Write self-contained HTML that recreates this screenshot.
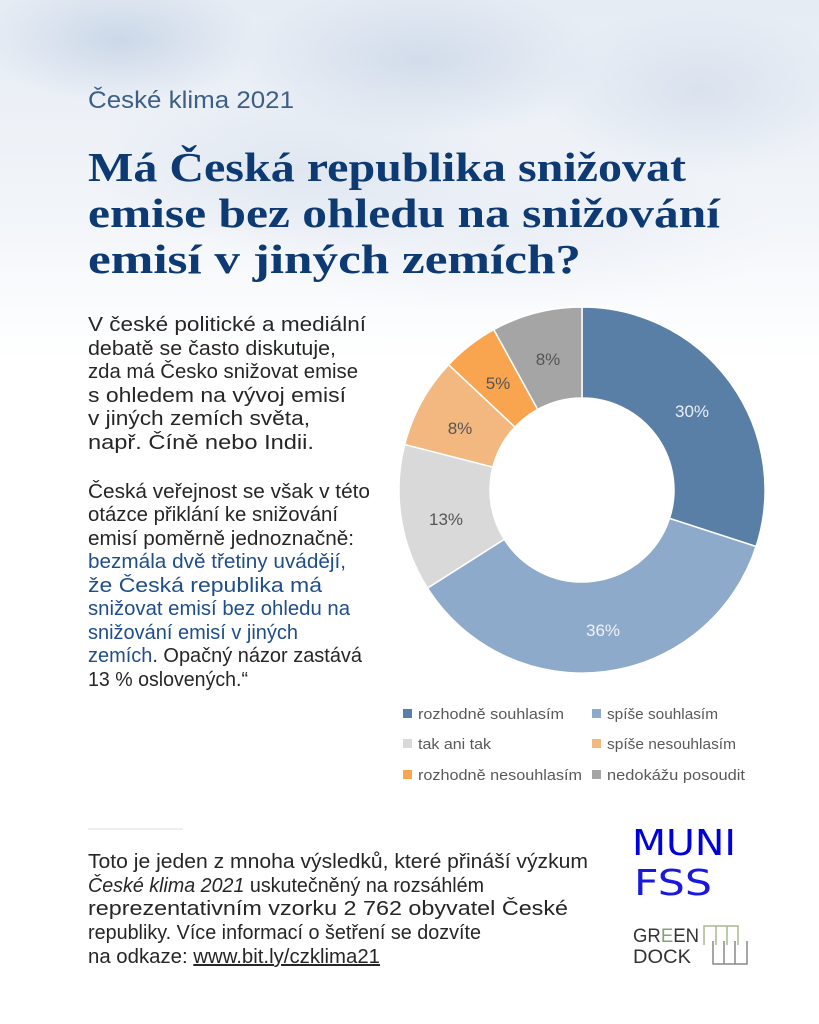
<!DOCTYPE html>
<html><head><meta charset="utf-8"><style>
html,body{margin:0;padding:0;}
body{width:819px;height:1024px;overflow:hidden;background:#fff;position:relative;font-family:"Liberation Sans",sans-serif;}
.bg{position:absolute;left:0;top:0;width:819px;height:360px;
background:
radial-gradient(ellipse 200px 90px at 120px 40px,rgba(180,198,222,.55),transparent 70%),
radial-gradient(ellipse 260px 110px at 420px 60px,rgba(190,205,226,.55),transparent 70%),
radial-gradient(ellipse 220px 120px at 700px 90px,rgba(200,212,230,.5),transparent 70%),
radial-gradient(ellipse 300px 120px at 300px 170px,rgba(205,216,232,.45),transparent 70%),
radial-gradient(ellipse 400px 120px at 500px 230px,rgba(220,228,240,.4),transparent 70%),
linear-gradient(#e6ecf4,#f2f5f9 60%,#fff);}
svg{position:absolute;left:0;top:0;}
</style></head><body>
<div class="bg"></div>
<svg width="819" height="1024" viewBox="0 0 819 1024">
<text x="88" y="108" font-family="Liberation Sans,sans-serif" font-size="24" fill="#3e5f85" textLength="206" lengthAdjust="spacingAndGlyphs">České klima 2021</text>
<g font-family="Liberation Serif,serif" font-weight="bold" font-size="41" fill="#0d3a73">
<text x="88" y="181" textLength="598" lengthAdjust="spacingAndGlyphs">Má Česká republika snižovat</text>
<text x="88" y="227" textLength="632" lengthAdjust="spacingAndGlyphs">emise bez ohledu na snižování</text>
<text x="88" y="273" textLength="493" lengthAdjust="spacingAndGlyphs">emisí v jiných zemích?</text>
</g>
<g font-family="Liberation Sans,sans-serif" font-size="20" fill="#262626" lengthAdjust="spacingAndGlyphs">
<text x="88" y="331" textLength="278" lengthAdjust="spacingAndGlyphs">V české politické a mediální</text>
<text x="88" y="355" textLength="248" lengthAdjust="spacingAndGlyphs">debatě se často diskutuje,</text>
<text x="88" y="378" textLength="270" lengthAdjust="spacingAndGlyphs">zda má Česko snižovat emise</text>
<text x="88" y="402" textLength="258" lengthAdjust="spacingAndGlyphs">s ohledem na vývoj emisí</text>
<text x="88" y="425" textLength="222" lengthAdjust="spacingAndGlyphs">v jiných zemích světa,</text>
<text x="88" y="449" textLength="226" lengthAdjust="spacingAndGlyphs">např. Číně nebo Indii.</text>
<text x="88" y="498" textLength="282" lengthAdjust="spacingAndGlyphs">Česká veřejnost se však v této</text>
<text x="88" y="521" textLength="250" lengthAdjust="spacingAndGlyphs">otázce přiklání ke snižování</text>
<text x="88" y="545" textLength="266" lengthAdjust="spacingAndGlyphs">emisí poměrně jednoznačně:</text>
<text x="88" y="568" textLength="258" lengthAdjust="spacingAndGlyphs" fill="#1f4e8c">bezmála dvě třetiny uvádějí,</text>
<text x="88" y="592" textLength="234" lengthAdjust="spacingAndGlyphs" fill="#1f4e8c">že Česká republika má</text>
<text x="88" y="615" textLength="262" lengthAdjust="spacingAndGlyphs" fill="#1f4e8c">snižovat emisí bez ohledu na</text>
<text x="88" y="639" textLength="210" lengthAdjust="spacingAndGlyphs" fill="#1f4e8c">snižování emisí v jiných</text>
<text x="88" y="662" textLength="274" lengthAdjust="spacingAndGlyphs"><tspan fill="#1f4e8c">zemích</tspan>. Opačný názor zastává</text>
<text x="88" y="686" textLength="160" lengthAdjust="spacingAndGlyphs">13 % oslovených.“</text>
</g>
<g stroke="#fff" stroke-width="1.5">
<path d="M582,307 A183,183 0 0 1 756.1,546.5 L669.5,518.4 A92,92 0 0 0 582,398 Z" fill="#5a7fa6"/>
<path d="M756.1,546.5 A183,183 0 0 1 427.5,588.1 L504.3,539.3 A92,92 0 0 0 669.5,518.4 Z" fill="#8eaacb"/>
<path d="M427.5,588.1 A183,183 0 0 1 404.7,444.5 L492.9,467.1 A92,92 0 0 0 504.3,539.3 Z" fill="#d9d9d9"/>
<path d="M404.7,444.5 A183,183 0 0 1 448.6,364.7 L514.9,427 A92,92 0 0 0 492.9,467.1 Z" fill="#f2b880"/>
<path d="M448.6,364.7 A183,183 0 0 1 493.8,329.6 L537.7,409.4 A92,92 0 0 0 514.9,427 Z" fill="#f9a44e"/>
<path d="M493.8,329.6 A183,183 0 0 1 582,307 L582,398 A92,92 0 0 0 537.7,409.4 Z" fill="#a5a5a5"/>
</g>
<g font-family="Liberation Sans,sans-serif" font-size="17" text-anchor="middle">
<text x="692" y="417" fill="#e8eef5">30%</text>
<text x="603" y="636" fill="#eef2f8">36%</text>
<text x="446" y="525" fill="#555">13%</text>
<text x="460" y="434" fill="#555">8%</text>
<text x="498" y="389" fill="#555">5%</text>
<text x="548" y="365" fill="#555">8%</text>
</g>
<g font-family="Liberation Sans,sans-serif" font-size="15" fill="#595959">
<rect x="403" y="709" width="9" height="9" fill="#5a7fa6"/><text x="418" y="719" textLength="146" lengthAdjust="spacingAndGlyphs">rozhodně souhlasím</text>
<rect x="592" y="709" width="9" height="9" fill="#8eaacb"/><text x="607" y="719" textLength="111" lengthAdjust="spacingAndGlyphs">spíše souhlasím</text>
<rect x="403" y="739" width="9" height="9" fill="#d9d9d9"/><text x="418" y="749" textLength="73" lengthAdjust="spacingAndGlyphs">tak ani tak</text>
<rect x="592" y="739" width="9" height="9" fill="#f2b880"/><text x="607" y="749" textLength="129" lengthAdjust="spacingAndGlyphs">spíše nesouhlasím</text>
<rect x="403" y="770" width="9" height="9" fill="#f9a44e"/><text x="418" y="780" textLength="164" lengthAdjust="spacingAndGlyphs">rozhodně nesouhlasím</text>
<rect x="592" y="770" width="9" height="9" fill="#a5a5a5"/><text x="607" y="780" textLength="138" lengthAdjust="spacingAndGlyphs">nedokážu posoudit</text>
</g>
<line x1="88" y1="829" x2="183" y2="829" stroke="#ddd" stroke-width="1"/>
<g font-family="Liberation Sans,sans-serif" font-size="20" fill="#262626">
<text x="88" y="868" textLength="500" lengthAdjust="spacingAndGlyphs">Toto je jeden z mnoha výsledků, které přináší výzkum</text>
<text x="88" y="892" textLength="396" lengthAdjust="spacingAndGlyphs"><tspan font-style="italic">České klima 2021</tspan> uskutečněný na rozsáhlém</text>
<text x="88" y="915" textLength="480" lengthAdjust="spacingAndGlyphs">reprezentativním vzorku 2 762 obyvatel České</text>
<text x="88" y="939" textLength="393" lengthAdjust="spacingAndGlyphs">republiky. Více informací o šetření se dozvíte</text>
<text x="88" y="963" textLength="292" lengthAdjust="spacingAndGlyphs">na odkaze: <tspan text-decoration="underline">www.bit.ly/czklima21</tspan></text>
</g>
<g font-family="DejaVu Sans,sans-serif" fill="#0000dc">
<text x="632" y="855" font-size="36" textLength="104" lengthAdjust="spacingAndGlyphs">MUNI</text>
<text x="634" y="895" font-size="36" font-weight="normal" textLength="78" lengthAdjust="spacingAndGlyphs" fill="none" stroke="#0000dc" stroke-width="0">FSS</text>
</g>
<text x="634" y="895" font-family="DejaVu Sans,sans-serif" font-size="36" fill="#0000dc" textLength="78" lengthAdjust="spacingAndGlyphs" opacity="0.9">FSS</text>
<g font-family="Liberation Sans,sans-serif" font-size="19" fill="#333">
<text x="633" y="942" textLength="66" lengthAdjust="spacingAndGlyphs">GR<tspan fill="#8aa070">E</tspan>EN</text>
<text x="633" y="963" textLength="58" lengthAdjust="spacingAndGlyphs">DOCK</text>
</g>
<g fill="none" stroke-width="1.5">
<path d="M704,945 V926 H738 V945 M716,926 V945 M727,926 V945" stroke="#a8b890"/>
<path d="M713,941 V964 H747 V941 M724,941 V964 M735,941 V964" stroke="#888"/>
</g>
</svg>
</body></html>
